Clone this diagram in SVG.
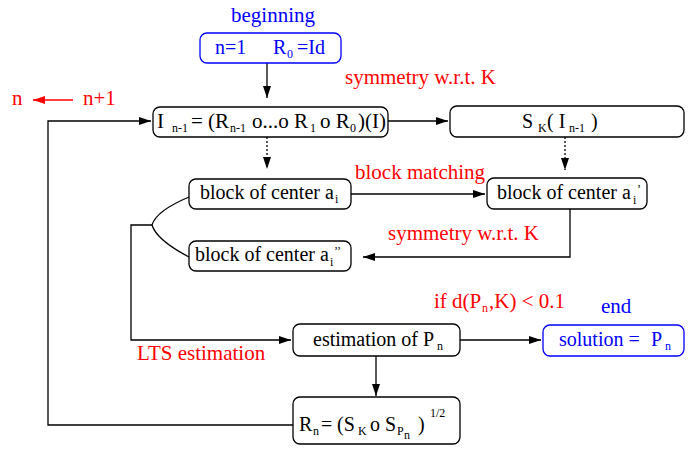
<svg xmlns="http://www.w3.org/2000/svg" width="700" height="450" viewBox="0 0 700 450">
<style>
text{font-family:"Liberation Serif","Times New Roman",serif;font-size:21px}
.t{font-size:20px}
.k{fill:#000}
.r{fill:#ff0000}
.b{fill:#0000ff}
.box{fill:#fff;stroke:#000;stroke-width:1.3}
.bbox{fill:#fff;stroke:#0000ff;stroke-width:1.3}
.ln{fill:none;stroke:#000;stroke-width:1.3}
.dot{fill:none;stroke:#000;stroke-width:1.3;stroke-dasharray:2,2}
.sub{font-size:12px}
</style>
<defs>
<marker id="ah" viewBox="0 0 12 8" refX="12" refY="4" markerWidth="12" markerHeight="8" markerUnits="userSpaceOnUse" orient="auto">
<path d="M0,0 L12,4 L0,8 Z" fill="#000"/>
</marker>
<marker id="ahr" viewBox="0 0 12 8" refX="12" refY="4" markerWidth="12" markerHeight="8" markerUnits="userSpaceOnUse" orient="auto">
<path d="M0,0 L12,4 L0,8 Z" fill="#ff0000"/>
</marker>
</defs>

<g id="connectors">
<line class="ln" x1="267" y1="63" x2="267" y2="98" marker-end="url(#ah)"/>
<line class="ln" x1="388" y1="121" x2="448" y2="121" marker-end="url(#ah)"/>
<line class="dot" x1="267" y1="137" x2="267" y2="169" marker-end="url(#ah)"/>
<line class="dot" x1="565" y1="137" x2="565" y2="170" marker-end="url(#ah)"/>
<line class="ln" x1="351" y1="194" x2="485" y2="194" marker-end="url(#ah)"/>
<polyline class="ln" points="570,209 570,257 363,257" marker-end="url(#ah)"/>
<path class="ln" d="M189,197 C170,205 155,215 152,225 C155,235 170,247 189,257"/>
<polyline class="ln" points="152,225 131,225 131,340 291,340" marker-end="url(#ah)"/>
<line class="ln" x1="460" y1="340" x2="541" y2="340" marker-end="url(#ah)"/>
<line class="ln" x1="376" y1="356" x2="376" y2="396" marker-end="url(#ah)"/>
<polyline class="ln" points="293,425 48,425 48,121 151,121" marker-end="url(#ah)"/>
<line stroke="#ff0000" stroke-width="1.3" x1="73" y1="100" x2="33" y2="100" marker-end="url(#ahr)"/>
</g>

<g id="labels">
<text class="b" x="231" y="22">beginning</text>
<text class="r" x="345" y="84">symmetry w.r.t. K</text>
<text class="r" x="12" y="105">n</text>
<text class="r" x="83" y="105">n+1</text>
<text class="r" x="355" y="179">block matching</text>
<text class="r" x="388" y="240">symmetry w.r.t. K</text>
<text class="r" x="137" y="360">LTS estimation</text>
<text class="r" x="434" y="308">if d(P<tspan class="sub" x="482" y="312">n</tspan><tspan x="489" y="308">,K) &lt; 0.1</tspan></text>
<text class="b" x="601" y="313">end</text>
</g>

<g id="start">
<rect class="bbox" x="200" y="33" width="141" height="30" rx="7"/>
<text class="b t" x="215" y="54">n=1<tspan x="273">R</tspan><tspan class="sub" x="287" y="58">0</tspan><tspan x="297" y="54">=Id</tspan></text>
</g>

<g id="image">
<rect class="box" x="153" y="107" width="235" height="30" rx="7"/>
<text class="k" x="157" y="128">I<tspan class="sub" x="172" y="132">n-1</tspan><tspan x="191" y="128">= (R</tspan><tspan class="sub" x="230" y="132">n-1</tspan><tspan x="252" y="128">o...o R</tspan><tspan class="sub" x="310" y="132">1</tspan><tspan x="320" y="128">o R</tspan><tspan class="sub" x="350" y="132">0</tspan><tspan x="358" y="128">)(I)</tspan></text>
</g>

<g id="symimage">
<rect class="box" x="450" y="106" width="234" height="31" rx="7"/>
<text class="k t" x="522" y="128">S<tspan class="sub" x="538" y="132">K</tspan><tspan x="547" y="128">( I</tspan><tspan class="sub" x="569" y="132">n-1</tspan><tspan x="591" y="128">)</tspan></text>
</g>

<g id="block1">
<rect class="box" x="189" y="179" width="162" height="30" rx="7"/>
<text class="k t" x="200" y="199">block of center a<tspan class="sub" x="335" y="203">i</tspan></text>
</g>

<g id="block2">
<rect class="box" x="487" y="178" width="160" height="31" rx="7"/>
<text class="k t" x="497" y="199">block of center a<tspan class="sub" x="633" y="204">i</tspan><tspan class="sub" x="637" y="193">’</tspan></text>
</g>

<g id="block3">
<rect class="box" x="189" y="241" width="162" height="30" rx="7"/>
<text class="k t" x="195" y="261">block of center a<tspan class="sub" x="330" y="266">i</tspan><tspan class="sub" x="334" y="255">’’</tspan></text>
</g>

<g id="estimation">
<rect class="box" x="293" y="324" width="167" height="32" rx="7"/>
<text class="k t" x="313" y="346">estimation of P<tspan class="sub" x="437" y="350">n</tspan></text>
</g>

<g id="solution">
<rect class="bbox" x="543" y="325" width="141" height="31" rx="7"/>
<text class="b t" x="559" y="346">solution =<tspan x="651">P</tspan><tspan class="sub" x="665" y="350">n</tspan></text>
</g>

<g id="rotation">
<rect class="box" x="293" y="397" width="167" height="47" rx="7"/>
<text class="k t" x="299" y="431">R<tspan class="sub" x="313" y="435">n</tspan><tspan x="321" y="431">=</tspan><tspan x="337" y="431">(S</tspan><tspan class="sub" x="358" y="435">K</tspan><tspan x="370" y="431">o S</tspan><tspan class="sub" x="397" y="435">P</tspan><tspan class="sub" font-size="10" x="404" y="439">n</tspan><tspan x="418" y="431">)</tspan><tspan class="sub" x="430" y="417">1/2</tspan></text>
</g>
</svg>
